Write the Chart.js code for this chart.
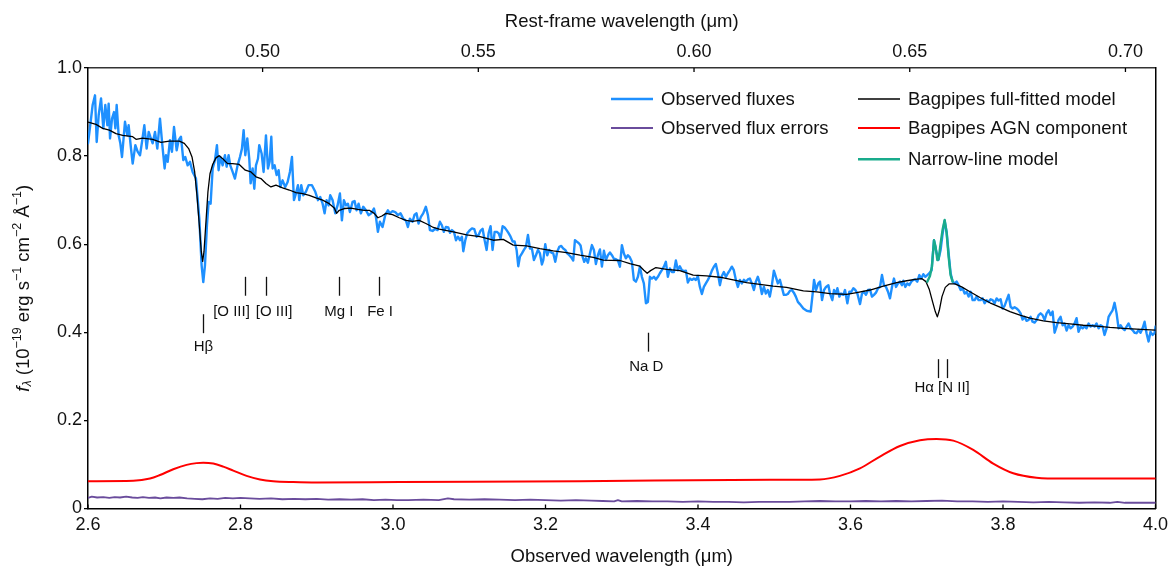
<!DOCTYPE html>
<html>
<head>
<meta charset="utf-8">
<script src="https://cdn.jsdelivr.net/npm/chart.js@4.4.1/dist/chart.umd.min.js"></script>
<style>
  html, body { margin: 0; padding: 0; background: #fff; }
  #wrap { width: 1174px; height: 568px; }
</style>
</head>
<body>
<div id="wrap"><canvas id="spec" width="1174" height="568"></canvas></div>
<script>
const FONT = '"Liberation Sans", Arial, Helvetica, sans-serif';
const onePlusZ = 5.658; // observed / rest-frame

// axis ticks
const obsTicks = [2.6, 2.8, 3.0, 3.2, 3.4, 3.6, 3.8, 4.0];
const restTicks = [0.50, 0.55, 0.60, 0.65, 0.70];
const fluxTicks = [0, 0.2, 0.4, 0.6, 0.8, 1.0];

// observed spectrum (um, 1e-19 erg/s/cm2/A)
const obsWave = [
  2.6000, 2.6035, 2.6061, 2.6092, 2.6114, 2.6140, 2.6171, 2.6201, 2.6227, 2.6254,
  2.6271, 2.6289, 2.6315, 2.6341, 2.6359, 2.6376, 2.6402, 2.6424, 2.6446, 2.6485,
  2.6516, 2.6533, 2.6564, 2.6586, 2.6621, 2.6651, 2.6682, 2.6708, 2.6739, 2.6769,
  2.6796, 2.6817, 2.6848, 2.6879, 2.6909, 2.6944, 2.6975, 2.7005, 2.7023, 2.7045,
  2.7075, 2.7101, 2.7128, 2.7163, 2.7189, 2.7219, 2.7250, 2.7276, 2.7307, 2.7337,
  2.7372, 2.7416, 2.7460, 2.7490, 2.7512, 2.7534, 2.7560, 2.7582, 2.7608, 2.7635,
  2.7665, 2.7691, 2.7713, 2.7735, 2.7766, 2.7796, 2.7818, 2.7844, 2.7866, 2.7897,
  2.7927, 2.7962, 2.7993, 2.8019, 2.8041, 2.8063, 2.8089, 2.8115, 2.8133, 2.8159,
  2.8181, 2.8203, 2.8229, 2.8246, 2.8277, 2.8303, 2.8334, 2.8360, 2.8382, 2.8404,
  2.8421, 2.8447, 2.8474, 2.8500, 2.8522, 2.8552, 2.8587, 2.8618, 2.8648, 2.8675,
  2.8701, 2.8727, 2.8753, 2.8771, 2.8797, 2.8823, 2.8858, 2.8893, 2.8937, 2.8981,
  2.9016, 2.9046, 2.9077, 2.9103, 2.9129, 2.9155, 2.9177, 2.9208, 2.9243, 2.9273,
  2.9304, 2.9330, 2.9356, 2.9383, 2.9409, 2.9435, 2.9470, 2.9496, 2.9522, 2.9549,
  2.9579, 2.9610, 2.9645, 2.9680, 2.9715, 2.9750, 2.9776, 2.9802, 2.9828, 2.9863,
  2.9898, 2.9933, 2.9959, 2.9994, 3.0029, 3.0064, 3.0099, 3.0134, 3.0169, 3.0195,
  3.0222, 3.0256, 3.0283, 3.0309, 3.0335, 3.0366, 3.0396, 3.0431, 3.0458, 3.0484,
  3.0519, 3.0554, 3.0584, 3.0615, 3.0641, 3.0667, 3.0694, 3.0725, 3.0747, 3.0773,
  3.0800, 3.0826, 3.0852, 3.0878, 3.0904, 3.0922, 3.0948, 3.0974, 3.1009, 3.1036,
  3.1066, 3.1097, 3.1123, 3.1149, 3.1175, 3.1202, 3.1228, 3.1254, 3.1280, 3.1306,
  3.1333, 3.1359, 3.1385, 3.1411, 3.1438, 3.1464, 3.1490, 3.1516, 3.1542, 3.1569,
  3.1595, 3.1621, 3.1643, 3.1665, 3.1691, 3.1717, 3.1743, 3.1770, 3.1796, 3.1822,
  3.1848, 3.1875, 3.1901, 3.1927, 3.1953, 3.1971, 3.1997, 3.2023, 3.2049, 3.2076,
  3.2102, 3.2128, 3.2154, 3.2180, 3.2207, 3.2233, 3.2259, 3.2285, 3.2312, 3.2338,
  3.2364, 3.2386, 3.2408, 3.2434, 3.2460, 3.2486, 3.2508, 3.2530, 3.2556, 3.2583,
  3.2609, 3.2635, 3.2661, 3.2687, 3.2714, 3.2740, 3.2766, 3.2792, 3.2818, 3.2845,
  3.2871, 3.2897, 3.2923, 3.2950, 3.2976, 3.3002, 3.3028, 3.3054, 3.3081, 3.3107,
  3.3133, 3.3159, 3.3186, 3.3212, 3.3238, 3.3264, 3.3290, 3.3317, 3.3343, 3.3369,
  3.3395, 3.3422, 3.3448, 3.3474, 3.3500, 3.3526, 3.3553, 3.3579, 3.3605, 3.3631,
  3.3658, 3.3684, 3.3710, 3.3736, 3.3762, 3.3789, 3.3815, 3.3841, 3.3867, 3.3894,
  3.3920, 3.3946, 3.3972, 3.3998, 3.4025, 3.4051, 3.4077, 3.4103, 3.4130, 3.4156,
  3.4182, 3.4208, 3.4234, 3.4261, 3.4287, 3.4313, 3.4339, 3.4366, 3.4392, 3.4418,
  3.4444, 3.4470, 3.4497, 3.4523, 3.4549, 3.4575, 3.4602, 3.4628, 3.4654, 3.4680,
  3.4706, 3.4733, 3.4759, 3.4785, 3.4811, 3.4838, 3.4864, 3.4890, 3.4916, 3.4942,
  3.4969, 3.4995, 3.5021, 3.5047, 3.5074, 3.5100, 3.5126, 3.5152, 3.5178, 3.5205,
  3.5231, 3.5257, 3.5283, 3.5310, 3.5336, 3.5382, 3.5426, 3.5478, 3.5504, 3.5522,
  3.5548, 3.5578, 3.5600, 3.5627, 3.5653, 3.5679, 3.5710, 3.5731, 3.5762, 3.5784,
  3.5810, 3.5828, 3.5854, 3.5876, 3.5906, 3.5928, 3.5959, 3.5985, 3.6011, 3.6037,
  3.6064, 3.6090, 3.6125, 3.6151, 3.6177, 3.6203, 3.6230, 3.6256, 3.6282, 3.6308,
  3.6334, 3.6361, 3.6387, 3.6413, 3.6439, 3.6466, 3.6492, 3.6518, 3.6544, 3.6570,
  3.6597, 3.6623, 3.6649, 3.6675, 3.6693, 3.6719, 3.6745, 3.6771, 3.6798, 3.6824,
  3.6850, 3.6876, 3.6903, 3.6929, 3.6955, 3.6981, 3.7007, 3.7034, 3.7064, 3.7095,
  3.7121, 3.7152, 3.7182, 3.7209, 3.7235, 3.7261, 3.7287, 3.7313, 3.7340, 3.7366,
  3.7392, 3.7418, 3.7445, 3.7471, 3.7497, 3.7523, 3.7549, 3.7576, 3.7602, 3.7628,
  3.7654, 3.7680, 3.7707, 3.7733, 3.7759, 3.7785, 3.7811, 3.7838, 3.7864, 3.7890,
  3.7916, 3.7943, 3.7969, 3.7995, 3.8021, 3.8048, 3.8074, 3.8100, 3.8126, 3.8152,
  3.8179, 3.8205, 3.8231, 3.8257, 3.8283, 3.8310, 3.8336, 3.8362, 3.8388, 3.8415,
  3.8441, 3.8467, 3.8493, 3.8519, 3.8546, 3.8572, 3.8598, 3.8624, 3.8651, 3.8677,
  3.8703, 3.8729, 3.8755, 3.8782, 3.8808, 3.8834, 3.8860, 3.8887, 3.8913, 3.8939,
  3.8965, 3.8991, 3.9018, 3.9044, 3.9070, 3.9096, 3.9123, 3.9149, 3.9175, 3.9201,
  3.9227, 3.9254, 3.9280, 3.9306, 3.9332, 3.9359, 3.9385, 3.9411, 3.9437, 3.9463,
  3.9490, 3.9516, 3.9542, 3.9568, 3.9595, 3.9621, 3.9647, 3.9673, 3.9699, 3.9726,
  3.9752, 3.9778, 3.9804, 3.9831, 3.9857, 3.9883, 3.9909, 3.9935, 3.9962, 3.9988,
  4.0000
];
const obsFlux = [
  0.829, 0.878, 0.916, 0.938, 0.832, 0.893, 0.931, 0.863, 0.916, 0.870,
  0.919, 0.840, 0.885, 0.900, 0.863, 0.916, 0.847, 0.829, 0.798, 0.878,
  0.847, 0.870, 0.817, 0.783, 0.825, 0.810, 0.802, 0.832, 0.870, 0.817,
  0.855, 0.844, 0.829, 0.855, 0.817, 0.885, 0.825, 0.772, 0.802, 0.787,
  0.836, 0.810, 0.866, 0.813, 0.836, 0.844, 0.791, 0.798, 0.779, 0.787,
  0.764, 0.749, 0.658, 0.552, 0.514, 0.552, 0.643, 0.696, 0.692, 0.772,
  0.791, 0.825, 0.768, 0.798, 0.779, 0.802, 0.776, 0.802, 0.779, 0.764,
  0.749, 0.779, 0.798, 0.817, 0.859, 0.802, 0.840, 0.794, 0.738, 0.772,
  0.726, 0.779, 0.794, 0.825, 0.806, 0.764, 0.847, 0.772, 0.787, 0.844,
  0.772, 0.779, 0.757, 0.768, 0.730, 0.745, 0.730, 0.741, 0.764, 0.798,
  0.700, 0.715, 0.734, 0.700, 0.734, 0.711, 0.719, 0.734, 0.734, 0.719,
  0.700, 0.707, 0.692, 0.670, 0.700, 0.688, 0.711, 0.700, 0.670, 0.688,
  0.715, 0.654, 0.700, 0.688, 0.692, 0.673, 0.696, 0.698, 0.677, 0.692,
  0.670, 0.685, 0.677, 0.666, 0.670, 0.681, 0.662, 0.628, 0.651, 0.639,
  0.666, 0.677, 0.670, 0.675, 0.673, 0.666, 0.670, 0.658, 0.654, 0.639,
  0.658, 0.651, 0.667, 0.670, 0.647, 0.662, 0.670, 0.685, 0.666, 0.632,
  0.630, 0.635, 0.632, 0.651, 0.643, 0.628, 0.639, 0.638, 0.626, 0.632,
  0.628, 0.609, 0.617, 0.609, 0.617, 0.584, 0.609, 0.625, 0.632, 0.636,
  0.634, 0.617, 0.621, 0.631, 0.635, 0.609, 0.587, 0.625, 0.641, 0.587,
  0.628, 0.628, 0.625, 0.613, 0.641, 0.638, 0.632, 0.625, 0.617, 0.606,
  0.606, 0.587, 0.550, 0.572, 0.579, 0.587, 0.594, 0.621, 0.590, 0.590,
  0.564, 0.575, 0.587, 0.579, 0.554, 0.564, 0.600, 0.575, 0.587, 0.581,
  0.579, 0.560, 0.583, 0.594, 0.596, 0.590, 0.587, 0.579, 0.575, 0.570,
  0.563, 0.609, 0.606, 0.603, 0.597, 0.572, 0.560, 0.568, 0.558, 0.579,
  0.598, 0.587, 0.555, 0.575, 0.588, 0.549, 0.585, 0.564, 0.575, 0.581,
  0.575, 0.567, 0.566, 0.563, 0.549, 0.598, 0.579, 0.568, 0.575, 0.570,
  0.560, 0.519, 0.515, 0.526, 0.549, 0.526, 0.511, 0.466, 0.469, 0.526,
  0.522, 0.526, 0.520, 0.526, 0.534, 0.541, 0.549, 0.560, 0.526, 0.545,
  0.537, 0.537, 0.563, 0.541, 0.550, 0.541, 0.539, 0.540, 0.513, 0.522,
  0.519, 0.522, 0.519, 0.528, 0.503, 0.487, 0.503, 0.511, 0.519, 0.528,
  0.540, 0.549, 0.555, 0.534, 0.507, 0.528, 0.537, 0.526, 0.534, 0.541,
  0.549, 0.541, 0.519, 0.503, 0.519, 0.511, 0.519, 0.515, 0.520, 0.522,
  0.511, 0.496, 0.515, 0.526, 0.511, 0.487, 0.503, 0.488, 0.496, 0.481,
  0.507, 0.540, 0.526, 0.511, 0.519, 0.502, 0.485, 0.485, 0.487, 0.494,
  0.496, 0.490, 0.481, 0.469, 0.464, 0.454, 0.449, 0.447, 0.488, 0.519,
  0.496, 0.511, 0.515, 0.473, 0.496, 0.503, 0.507, 0.488, 0.473, 0.496,
  0.488, 0.500, 0.481, 0.488, 0.485, 0.496, 0.466, 0.492, 0.492, 0.500,
  0.496, 0.488, 0.464, 0.488, 0.492, 0.485, 0.496, 0.497, 0.481, 0.485,
  0.490, 0.500, 0.503, 0.530, 0.507, 0.503, 0.492, 0.477, 0.503, 0.522,
  0.503, 0.511, 0.515, 0.507, 0.517, 0.503, 0.511, 0.507, 0.515, 0.519,
  0.520, 0.515, 0.530, 0.522, 0.532, 0.526, 0.530, 0.534, 0.541, 0.609,
  0.587, 0.564, 0.587, 0.625, 0.653, 0.628, 0.579, 0.534, 0.515, 0.511,
  0.515, 0.507, 0.496, 0.500, 0.488, 0.492, 0.481, 0.492, 0.473, 0.473,
  0.481, 0.473, 0.473, 0.477, 0.466, 0.473, 0.469, 0.475, 0.473, 0.466,
  0.477, 0.472, 0.475, 0.454, 0.460, 0.473, 0.485, 0.458, 0.454, 0.457,
  0.454, 0.450, 0.443, 0.429, 0.435, 0.426, 0.428, 0.435, 0.424, 0.422,
  0.428, 0.439, 0.443, 0.439, 0.428, 0.443, 0.450, 0.439, 0.447, 0.399,
  0.413, 0.428, 0.435, 0.416, 0.420, 0.404, 0.416, 0.409, 0.413, 0.420,
  0.432, 0.401, 0.413, 0.409, 0.414, 0.409, 0.420, 0.413, 0.416, 0.413,
  0.420, 0.409, 0.416, 0.413, 0.394, 0.409, 0.435, 0.443, 0.450, 0.467,
  0.443, 0.409, 0.416, 0.409, 0.405, 0.413, 0.420, 0.409, 0.405, 0.399,
  0.398, 0.405, 0.399, 0.409, 0.424, 0.398, 0.379, 0.401, 0.394, 0.398,
  0.413
];

// flux errors
const errWave = [
  2.600, 2.605, 2.612, 2.620, 2.628, 2.635, 2.642, 2.650, 2.658, 2.665,
  2.672, 2.680, 2.688, 2.695, 2.703, 2.712, 2.720, 2.730, 2.740, 2.750,
  2.760, 2.770, 2.780, 2.790, 2.800, 2.812, 2.825, 2.840, 2.855, 2.870,
  2.885, 2.900, 2.915, 2.930, 2.945, 2.960, 2.975, 2.990, 3.005, 3.020,
  3.040, 3.060, 3.072, 3.080, 3.100, 3.120, 3.140, 3.160, 3.180, 3.200,
  3.220, 3.240, 3.260, 3.275, 3.290, 3.295, 3.300, 3.320, 3.340, 3.360,
  3.380, 3.400, 3.420, 3.440, 3.460, 3.480, 3.500, 3.520, 3.540, 3.560,
  3.580, 3.600, 3.620, 3.640, 3.660, 3.680, 3.700, 3.720, 3.740, 3.760,
  3.780, 3.800, 3.820, 3.840, 3.860, 3.880, 3.900, 3.920, 3.940, 3.950,
  3.960, 3.980, 4.000
];
const errFlux = [
  0.024, 0.027, 0.025, 0.026, 0.024, 0.026, 0.025, 0.027, 0.025, 0.024,
  0.026, 0.024, 0.025, 0.023, 0.025, 0.024, 0.025, 0.023, 0.022, 0.021,
  0.023, 0.022, 0.024, 0.023, 0.024, 0.023, 0.022, 0.023, 0.021, 0.022,
  0.021, 0.022, 0.020, 0.021, 0.020, 0.021, 0.019, 0.020, 0.019, 0.019,
  0.020, 0.019, 0.023, 0.021, 0.020, 0.021, 0.020, 0.019, 0.020, 0.019,
  0.018, 0.019, 0.018, 0.017, 0.016, 0.019, 0.016, 0.017, 0.016, 0.016,
  0.015, 0.016, 0.015, 0.015, 0.014, 0.015, 0.015, 0.015, 0.016, 0.017,
  0.016, 0.016, 0.017, 0.016, 0.017, 0.016, 0.017, 0.018, 0.016, 0.016,
  0.015, 0.016, 0.015, 0.014, 0.015, 0.014, 0.013, 0.014, 0.013, 0.015,
  0.013, 0.013, 0.013
];

// Bagpipes full fit
const modelWave = [
  2.600, 2.6105, 2.6193, 2.6280, 2.6367, 2.6455, 2.6586, 2.6630, 2.6717, 2.6848,
  2.6957, 2.7067, 2.7198, 2.7263, 2.7320, 2.7364, 2.7399, 2.7429, 2.7460, 2.7486,
  2.7504, 2.7521, 2.7547, 2.7573, 2.7600, 2.7635, 2.7678, 2.7722, 2.7774, 2.7831,
  2.7897, 2.7984, 2.8063, 2.8137, 2.8203, 2.8268, 2.8334, 2.8399, 2.8465, 2.8552,
  2.8640, 2.8727, 2.8815, 2.8902, 2.8989, 2.9077, 2.9164, 2.9230, 2.9260, 2.9295,
  2.9361, 2.9448, 2.9536, 2.9623, 2.9689, 2.9754, 2.9802, 2.9854, 2.9907, 2.9994,
  3.0082, 3.0169, 3.0256, 3.0344, 3.0431, 3.0519, 3.0606, 3.0791, 3.0966, 3.1140,
  3.1315, 3.1446, 3.1577, 3.1752, 3.1927, 3.2102, 3.2277, 3.2451, 3.2626, 3.2757,
  3.2976, 3.3107, 3.3238, 3.3290, 3.3334, 3.3378, 3.3448, 3.3588, 3.3762, 3.3937,
  3.4112, 3.4287, 3.4461, 3.4636, 3.4811, 3.4986, 3.5161, 3.5382, 3.5557, 3.5731,
  3.5950, 3.6081, 3.6256, 3.6431, 3.6605, 3.6737, 3.6846, 3.6933, 3.6990, 3.7034,
  3.7077, 3.7112, 3.7139, 3.7165, 3.7200, 3.7243, 3.7296, 3.7370, 3.7458, 3.7567,
  3.7698, 3.7829, 3.7960, 3.8091, 3.8222, 3.8353, 3.8528, 3.8703, 3.8878, 3.9053,
  3.9227, 3.9402, 3.9577, 3.9752, 4.000
];
const modelFlux = [
  0.877, 0.872, 0.863, 0.859, 0.851, 0.847, 0.844, 0.838, 0.841, 0.838,
  0.831, 0.834, 0.834, 0.829, 0.817, 0.798, 0.764, 0.711, 0.643, 0.583,
  0.561, 0.583, 0.651, 0.719, 0.760, 0.781, 0.796, 0.801, 0.793, 0.783,
  0.783, 0.781, 0.768, 0.764, 0.753, 0.749, 0.738, 0.730, 0.734, 0.728,
  0.723, 0.717, 0.715, 0.711, 0.705, 0.700, 0.692, 0.682, 0.670, 0.677,
  0.681, 0.682, 0.679, 0.677, 0.677, 0.670, 0.660, 0.664, 0.670, 0.667,
  0.660, 0.654, 0.652, 0.654, 0.647, 0.639, 0.634, 0.628, 0.621, 0.617,
  0.609, 0.611, 0.598, 0.596, 0.590, 0.585, 0.581, 0.575, 0.570, 0.564,
  0.563, 0.556, 0.550, 0.541, 0.534, 0.540, 0.547, 0.543, 0.540, 0.530,
  0.528, 0.525, 0.519, 0.513, 0.509, 0.505, 0.502, 0.494, 0.492, 0.488,
  0.486, 0.490, 0.496, 0.505, 0.513, 0.517, 0.520, 0.522, 0.515, 0.497,
  0.469, 0.447, 0.435, 0.450, 0.481, 0.502, 0.510, 0.510, 0.503, 0.492,
  0.479, 0.467, 0.457, 0.447, 0.439, 0.432, 0.426, 0.422, 0.419, 0.416,
  0.414, 0.411, 0.409, 0.407, 0.405
];

// Bagpipes AGN component
const agnWave = [
  2.600, 2.6594, 2.6813, 2.6944, 2.7118, 2.7293, 2.7424, 2.7512, 2.7643, 2.7774,
  2.7905, 2.8080, 2.8255, 2.8429, 2.8692, 2.9000, 3.0090, 3.2451, 3.4944, 3.5600,
  3.5862, 3.6124, 3.6386, 3.6648, 3.6911, 3.7129, 3.7348, 3.7610, 3.7872, 3.8134,
  3.8440, 3.8790, 3.9300, 4.000
];
const agnFlux = [
  0.062, 0.063, 0.068, 0.076, 0.089, 0.099, 0.103, 0.104, 0.102, 0.095,
  0.086, 0.074, 0.066, 0.062, 0.060, 0.059, 0.060, 0.062, 0.065, 0.066,
  0.074, 0.091, 0.118, 0.142, 0.155, 0.158, 0.154, 0.133, 0.102, 0.080,
  0.070, 0.068, 0.068, 0.068
];

// narrow-line model around Halpha + [N II]
const narrowWave = [
  3.7007, 3.7042, 3.7068, 3.7095, 3.7116, 3.7139, 3.7156, 3.7182, 3.7209, 3.7235,
  3.7261, 3.7287, 3.7313, 3.7340
];
const narrowFlux = [
  0.515, 0.528, 0.549, 0.609, 0.594, 0.564, 0.566, 0.602, 0.634, 0.655,
  0.625, 0.572, 0.530, 0.515
];

// spectral line markers (rest-frame um), tick top in flux units
const markRest = [0.48627, 0.49603, 0.50082, 0.51767, 0.52700, 0.58940, 0.65646, 0.65853];
const markTop = [0.441, 0.526, 0.526, 0.526, 0.526, 0.399, 0.339, 0.339];
const markLen = 0.043;
const labelText = ['H\u03b2', '[O III]', '[O III]', 'Mg I', 'Fe I', 'Na D', 'H\u03b1 [N II]'];
const labelRest = [0.48627, 0.49603, 0.50082, 0.51767, 0.52700, 0.58940, 0.65750];
const labelY = [0.367, 0.447, 0.447, 0.447, 0.447, 0.322, 0.274];
const labelDx = [0, -14, 8, 0, 1, -2, 0];

const pts = (xs, ys) => xs.map((x, i) => ({ x: x, y: ys[i] }));

// inward tick marks on the wavelength axes
const innerTicks = {
  id: 'innerTicks',
  afterDraw(chart) {
    const { ctx, chartArea, scales } = chart;
    ctx.save();
    ctx.strokeStyle = '#000';
    ctx.lineWidth = 1.3;
    scales.x.ticks.forEach(t => {
      const px = scales.x.getPixelForValue(t.value);
      ctx.beginPath(); ctx.moveTo(px, chartArea.bottom); ctx.lineTo(px, chartArea.bottom - 4); ctx.stroke();
    });
    scales.xTop.ticks.forEach(t => {
      const px = scales.xTop.getPixelForValue(t.value);
      ctx.beginPath(); ctx.moveTo(px, chartArea.top); ctx.lineTo(px, chartArea.top + 4); ctx.stroke();
    });
    ctx.restore();
  }
};

// line identifications
const lineMarks = {
  id: 'lineMarks',
  afterDatasetsDraw(chart) {
    const { ctx, scales: { x, y } } = chart;
    ctx.save();
    ctx.strokeStyle = '#111';
    ctx.lineWidth = 1.3;
    markRest.forEach((r, i) => {
      const px = Math.round(x.getPixelForValue(r * onePlusZ)) + 0.5;
      ctx.beginPath();
      ctx.moveTo(px, y.getPixelForValue(markTop[i]));
      ctx.lineTo(px, y.getPixelForValue(markTop[i] - markLen));
      ctx.stroke();
    });
    ctx.font = '15px ' + FONT;
    ctx.fillStyle = '#111';
    ctx.textAlign = 'center';
    ctx.textBaseline = 'middle';
    labelText.forEach((t, i) => {
      ctx.fillText(t, x.getPixelForValue(labelRest[i] * onePlusZ) + labelDx[i], y.getPixelForValue(labelY[i]));
    });
    ctx.restore();
  }
};

// y title with italic f, subscript lambda and superscripts
const yTitle = {
  id: 'yTitle',
  afterDraw(chart) {
    const { ctx, chartArea } = chart;
    const big = '18.5px ' + FONT, small = '12.5px ' + FONT;
    const parts = [
      { t: 'f', f: 'italic ' + big, dy: 0 },
      { t: '\u03bb', f: 'italic ' + small, dy: 4 },
      { t: ' (10', f: big, dy: 0 },
      { t: '\u221219', f: small, dy: -6 },
      { t: ' erg s', f: big, dy: 0 },
      { t: '\u22121', f: small, dy: -6 },
      { t: ' cm', f: big, dy: 0 },
      { t: '\u22122', f: small, dy: -6 },
      { t: ' \u00c5', f: big, dy: 0 },
      { t: '\u22121', f: small, dy: -6 },
      { t: ')', f: big, dy: 0 }
    ];
    ctx.save();
    let total = 0;
    parts.forEach(p => { ctx.font = p.f; p.w = ctx.measureText(p.t).width; total += p.w; });
    ctx.translate(24, (chartArea.top + chartArea.bottom) / 2);
    ctx.rotate(-Math.PI / 2);
    ctx.fillStyle = '#111';
    ctx.textBaseline = 'middle';
    let cx = -total / 2;
    parts.forEach(p => { ctx.font = p.f; ctx.fillText(p.t, cx, p.dy); cx += p.w; });
    ctx.restore();
  }
};

// two-column legend inside the plot
const specLegend = {
  id: 'specLegend',
  afterDraw(chart, args, o) {
    const ctx = chart.ctx;
    ctx.save();
    ctx.font = o.size + 'px ' + FONT;
    ctx.textBaseline = 'middle';
    chart.data.datasets.forEach(ds => {
      const x0 = o.colX[ds.legendCol], y0 = o.rowY[ds.legendRow];
      ctx.strokeStyle = ds.borderColor;
      ctx.lineWidth = ds.borderWidth;
      ctx.beginPath(); ctx.moveTo(x0, y0); ctx.lineTo(x0 + o.lineLen, y0); ctx.stroke();
      ctx.fillStyle = '#111';
      ctx.fillText(ds.label, x0 + o.lineLen + o.gap, y0 + 0.5);
    });
    ctx.restore();
  }
};

const tickFont = { family: FONT, size: 18 };
const titleFont = { family: FONT, size: 18.5 };

new Chart(document.getElementById('spec'), {
  type: 'line',
  data: {
    datasets: [
      { label: 'Observed fluxes', data: pts(obsWave, obsFlux), borderColor: '#1e90ff', borderWidth: 2.4, order: 2, legendCol: 0, legendRow: 0 },
      { label: 'Observed flux errors', data: pts(errWave, errFlux), borderColor: '#6a4c9c', borderWidth: 1.8, order: 4, legendCol: 0, legendRow: 1 },
      { label: 'Bagpipes full-fitted model', data: pts(modelWave, modelFlux), borderColor: '#000000', borderWidth: 1.3, order: 1, legendCol: 1, legendRow: 0 },
      { label: 'Bagpipes AGN component', data: pts(agnWave, agnFlux), borderColor: '#ff0000', borderWidth: 2, cubicInterpolationMode: 'monotone', order: 3, legendCol: 1, legendRow: 1 },
      { label: 'Narrow-line model', data: pts(narrowWave, narrowFlux), borderColor: '#19ab8c', borderWidth: 2.4, order: 0, legendCol: 1, legendRow: 2 }
    ]
  },
  options: {
    responsive: false,
    animation: false,
    devicePixelRatio: 1,
    layout: { padding: 0 },
    elements: {
      point: { radius: 0 },
      line: { tension: 0, fill: false, borderJoinStyle: 'round', borderCapStyle: 'round' }
    },
    plugins: {
      legend: { display: false },
      tooltip: { enabled: false },
      specLegend: { colX: [611, 858], rowY: [99, 128, 159.3], lineLen: 42, gap: 8, size: 18.5 }
    },
    scales: {
      x: {
        type: 'linear', position: 'bottom', min: 2.6, max: 4.0,
        afterBuildTicks: s => { s.ticks = obsTicks.map(v => ({ value: v })); },
        ticks: { color: '#111', font: tickFont, padding: 6, maxRotation: 0, autoSkip: false, callback: v => v.toFixed(1) },
        grid: { drawOnChartArea: false, drawTicks: false },
        border: { color: '#000', width: 1.5 },
        title: { display: true, text: 'Observed wavelength (\u03bcm)', color: '#111', font: titleFont, padding: { top: 0, bottom: 0 } },
        afterFit: s => { s.height = 59.5; }
      },
      xTop: {
        type: 'linear', position: 'top', min: 2.6, max: 4.0,
        afterBuildTicks: s => { s.ticks = restTicks.map(r => ({ value: r * onePlusZ })); },
        ticks: { color: '#111', font: tickFont, padding: 5, maxRotation: 0, autoSkip: false, callback: v => (v / onePlusZ).toFixed(2) },
        grid: { drawOnChartArea: false, drawTicks: false },
        border: { color: '#333', width: 1.5 },
        title: { display: true, text: 'Rest-frame wavelength (\u03bcm)', color: '#111', font: titleFont, padding: { top: 10.5, bottom: 0 } },
        afterFit: s => { s.height = 68; }
      },
      y: {
        position: 'left', min: 0, max: 1,
        afterBuildTicks: s => { s.ticks = fluxTicks.map(v => ({ value: v })); },
        ticks: { color: '#111', font: tickFont, padding: 2, callback: v => (v === 0 ? '0' : v.toFixed(1)) },
        grid: { drawOnChartArea: false, tickLength: 4, color: '#000', lineWidth: 1.3 },
        border: { color: '#000', width: 1.5 },
        afterFit: s => { s.width = 88; }
      },
      yRight: {
        position: 'right', min: 0, max: 1,
        ticks: { display: false },
        grid: { drawOnChartArea: false, drawTicks: false },
        border: { color: '#000', width: 1.5 },
        afterFit: s => { s.width = 18; }
      }
    }
  },
  plugins: [innerTicks, lineMarks, yTitle, specLegend]
});
</script>
</body>
</html>
